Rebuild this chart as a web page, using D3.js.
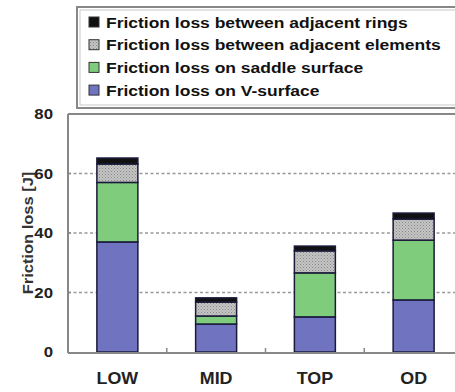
<!DOCTYPE html>
<html><head><meta charset="utf-8">
<script src="https://cdn.jsdelivr.net/npm/d3@7"></script>
<style>body{margin:0;background:#fff}svg{display:block}</style>
</head><body>
<svg id="c" width="455" height="392"></svg>
<script>
const categories = ["LOW", "MID", "TOP", "OD"];
const seriesNames = ["Friction loss on V-surface", "Friction loss on saddle surface", "Friction loss between adjacent elements", "Friction loss between adjacent rings"];
const vSurface = [37.0, 9.4, 11.8, 17.5];
const saddle = [20.0, 2.7, 14.8, 20.1];
const elements = [6.2, 4.7, 7.4, 7.1];
const rings = [2.0, 1.4, 1.6, 2.0];
const yTicks = [0, 20, 40, 60, 80];
const gridTicks = [20, 40, 60];
const colors = ["#7073c0", "#7fcc7c", "url(#grey)", "#111"];
const legendSwatch = ["#7073c0", "#7fcc7c", "#b8b8b8", "#111"];

const FONT = "Liberation Sans, Arial, sans-serif";
const svg = d3.select("#c");
const defs = svg.append("defs");
const pg = defs.append("pattern").attr("id","grey").attr("patternUnits","userSpaceOnUse").attr("width",3).attr("height",3);
pg.append("rect").attr("width",3).attr("height",3).attr("fill","#c4c4c4");
pg.append("rect").attr("width",1).attr("height",1).attr("fill","#8a8a8a");
pg.append("rect").attr("x",1.5).attr("y",1.5).attr("width",1).attr("height",1).attr("fill","#9a9a9a");

const L = 68, R = 463, T = 114, B = 352;
const x = d3.scaleBand().domain(categories).range([L, R]).paddingInner(0.585).paddingOuter(0.2925);
const y = d3.scaleLinear().domain([0, 80]).range([B, T]);

const rows = categories.map((c,i)=>({cat:c, s0:vSurface[i], s1:saddle[i], s2:elements[i], s3:rings[i]}));
const stack = d3.stack().keys(["s0","s1","s2","s3"])(rows);

// gridlines
svg.append("g").selectAll("line").data(gridTicks).join("line")
  .attr("x1", L).attr("x2", 455).attr("y1", d=>y(d)).attr("y2", d=>y(d))
  .attr("stroke","#999").attr("stroke-width",1.5).attr("stroke-dasharray","3,2.5");

// bars
stack.forEach((layer,k)=>{
  svg.append("g").selectAll("rect").data(layer).join("rect")
    .attr("x", d=>x(d.data.cat)).attr("width", x.bandwidth())
    .attr("y", d=>y(d[1])).attr("height", d=>y(d[0])-y(d[1]))
    .attr("fill", colors[k]).attr("stroke","#1a1a3a").attr("stroke-width",1.5);
});

// frame
const frame = svg.append("g").attr("fill","none").attr("stroke","#888");
frame.append("line").attr("x1",L).attr("x2",L).attr("y1",T).attr("y2",B+1).attr("stroke-width",2);
frame.append("line").attr("x1",L).attr("x2",455).attr("y1",T).attr("y2",T).attr("stroke-width",2);
frame.append("line").attr("x1",L).attr("x2",455).attr("y1",B+1).attr("y2",B+1).attr("stroke-width",2);

// y axis
const yAxis = d3.axisLeft(y).tickValues(yTicks).tickSize(0).tickPadding(0).tickFormat(d3.format("d"));
const ya = svg.append("g").attr("transform",`translate(${L},0)`).call(yAxis);
ya.select(".domain").remove();
ya.selectAll("text").attr("x",0).attr("font-family",FONT).attr("font-weight","bold").attr("font-size",15).attr("fill","#222")
  .attr("transform","translate(-15,0) scale(1.12,1)");
svg.append("g").selectAll("line").data(gridTicks).join("line")
  .attr("x1",L).attr("x2",L+3).attr("y1",d=>y(d)).attr("y2",d=>y(d)).attr("stroke","#888").attr("stroke-width",1.5);

// x axis
const xAxis = d3.axisBottom(x).tickSize(0).tickPadding(20);
const xa = svg.append("g").attr("transform",`translate(0,${B})`).call(xAxis);
xa.select(".domain").remove();
xa.selectAll("text").attr("font-family",FONT).attr("font-weight","bold").attr("font-size",17).attr("fill","#222")
  .attr("transform","scale(1.05,1)").attr("x", function(){ return 0; });
xa.selectAll(".tick").each(function(d){
  d3.select(this).attr("transform",`translate(${x(d)+x.bandwidth()/2},0)`);
});
// category separator ticks
svg.append("g").selectAll("line").data(categories.slice(1)).join("line")
  .attr("x1",d=>x(d)-x.step()*x.paddingInner()/2).attr("x2",d=>x(d)-x.step()*x.paddingInner()/2)
  .attr("y1",B-4).attr("y2",B).attr("stroke","#888").attr("stroke-width",1.5);

// axis title
svg.append("text").attr("transform","translate(33,233) rotate(-90) scale(1.1,1)").attr("text-anchor","middle")
  .attr("font-family",FONT).attr("font-weight","bold").attr("font-size",15).attr("fill","#333")
  .text("Friction loss [J]");

// legend
const lg = svg.append("g");
lg.append("rect").attr("x",77).attr("y",7).attr("width",400).attr("height",101).attr("fill","#fff").attr("stroke","#888").attr("stroke-width",2);
lg.append("rect").attr("x",80).attr("y",10).attr("width",400).attr("height",95).attr("fill","none").attr("stroke","#bbb").attr("stroke-width",0.8);
const order = [3,2,1,0];
order.forEach((k,i)=>{
  const yy = 22 + i*22.7;
  lg.append("rect").attr("x",89).attr("y",yy-5).attr("width",10).attr("height",10)
    .attr("fill", k===2 ? "url(#grey)" : legendSwatch[k]).attr("stroke","#333").attr("stroke-width",1);
  lg.append("text").attr("transform",`translate(106,${yy+5.5}) scale(1.15,1)`)
    .attr("font-family",FONT).attr("font-weight","bold").attr("font-size",15.2).attr("fill","#111")
    .text(seriesNames[k]);
});
</script>
</body></html>
